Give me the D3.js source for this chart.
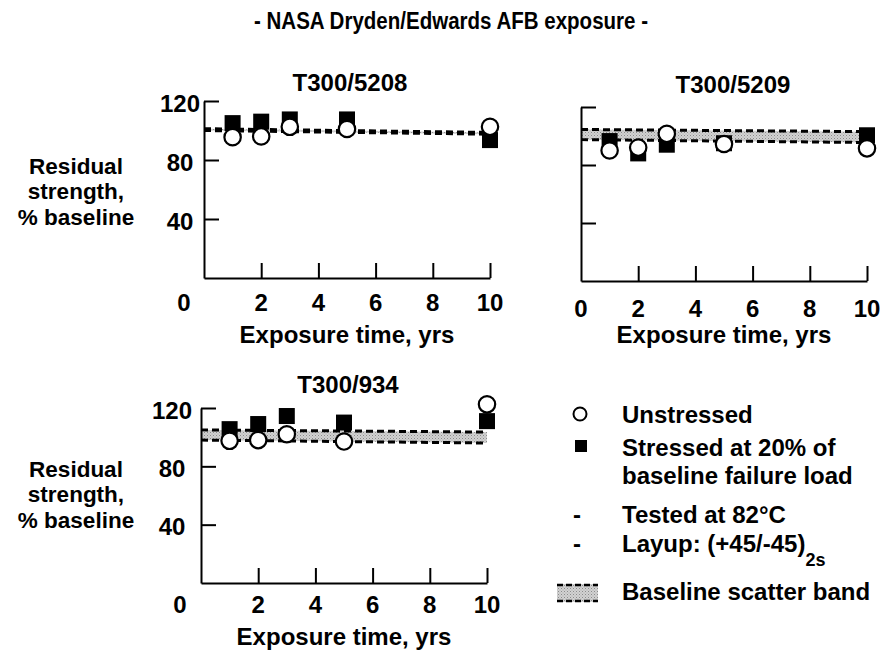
<!DOCTYPE html>
<html>
<head>
<meta charset="utf-8">
<script src="https://cdn.jsdelivr.net/npm/d3@7/dist/d3.min.js"></script>
<style>
  html, body { margin: 0; padding: 0; background: #fff; }
  svg { display: block; }
  text { font-family: "Liberation Sans", Arial, Helvetica, sans-serif; font-weight: bold; fill: #000; }
</style>
</head>
<body>
<svg id="chart" width="883" height="658"></svg>
<script>
// Exposure times (years) at which coupons were pulled and tested
const years = [1, 2, 3, 5, 10];

// Residual strength, % of baseline
const unstressed5208 = [95.5, 96, 102.5, 101, 102.5];
const stressed5208   = [105, 106, 107.5, 107.5, 93.5];
const unstressed5209 = [90, 92, 101.5, 94.5, 91.5];
const stressed5209   = [96.5, 88, 94, 95, 100.5];
const unstressed934  = [97.5, 98, 102, 97, 122.5];
const stressed934    = [105.5, 109, 114.5, 110, 111];

// Baseline scatter band: [year, low, high]
const band5208 = [[0, 100, 101.2], [10, 97.5, 98.7]];
const band5209 = [[0, 97.5, 104.5], [10, 95.5, 103]];
const band934  = [[0, 98, 105], [10, 96, 103.5]];

// Axis ticks
const xTicks = [2, 4, 6, 8, 10];
const yTicks = [40, 80, 120];

const FS = "24px";
const svg = d3.select("#chart");

// halftone-like fill for the scatter band
const defs = svg.append("defs");
const pat = defs.append("pattern")
  .attr("id", "stipple").attr("patternUnits", "userSpaceOnUse")
  .attr("width", 3).attr("height", 3);
pat.append("rect").attr("width", 3).attr("height", 3).attr("fill", "#d2d2d2");
pat.append("rect").attr("x", 0).attr("y", 0).attr("width", 1).attr("height", 1).attr("fill", "#8c8c8c");
pat.append("rect").attr("x", 1.5).attr("y", 1.5).attr("width", 1).attr("height", 1).attr("fill", "#a8a8a8");

svg.append("text")
  .attr("x", 451).attr("y", 29)
  .attr("text-anchor", "middle")
  .attr("textLength", 394).attr("lengthAdjust", "spacingAndGlyphs")
  .style("font-size", "23px")
  .text("- NASA Dryden/Edwards AFB exposure -");

function drawPanel(p) {
  const x = d3.scaleLinear().domain([0, 10]).range([p.left, p.right]);
  const y = d3.scaleLinear().domain([0, 120]).range([p.bottom, p.top]);
  const g = svg.append("g");

  // scatter band
  g.append("path").datum(p.band)
    .attr("fill", "url(#stipple)")
    .attr("d", d3.area().x(d => x(d[0])).y0(d => y(d[1])).y1(d => y(d[2])));
  [1, 2].forEach(k => {
    g.append("path").datum(p.band)
      .attr("fill", "none").attr("stroke", "#000")
      .attr("stroke-width", 3).attr("stroke-dasharray", "7,4")
      .attr("d", d3.line().x(d => x(d[0])).y(d => y(d[k])));
  });

  // axes with inward ticks
  const ya = g.append("g").attr("transform", `translate(${p.left},0)`)
    .call(d3.axisLeft(y).tickValues(yTicks).tickSizeInner(-15).tickSizeOuter(0).tickFormat(""));
  const xa = g.append("g").attr("transform", `translate(0,${p.bottom})`)
    .call(d3.axisBottom(x).tickValues(xTicks).tickSizeInner(-15).tickSizeOuter(0).tickFormat(""));
  [ya, xa].forEach(a => {
    a.selectAll("path, line").attr("stroke", "#000").attr("stroke-width", 2);
  });

  // markers: stressed squares under unstressed circles
  const s = 16;
  g.selectAll(null).data(years.map((t, i) => [t, p.stressed[i]])).join("rect")
    .attr("x", d => x(d[0]) - s / 2).attr("y", d => y(d[1]) - s / 2)
    .attr("width", s).attr("height", s).attr("fill", "#000");
  g.selectAll(null).data(years.map((t, i) => [t, p.unstressed[i]])).join("circle")
    .attr("cx", d => x(d[0])).attr("cy", d => y(d[1])).attr("r", 8.2)
    .attr("fill", "#fff").attr("stroke", "#000").attr("stroke-width", 2.2);

  // tick labels
  const xt = p.showZeroX ? [0].concat(xTicks) : xTicks;
  g.selectAll(null).data(xt).join("text")
    .attr("x", d => x(d)).attr("y", p.xLabelY)
    .attr("text-anchor", "middle").attr("dominant-baseline", "central")
    .style("font-size", FS).text(d => d);
  if (p.yLabelX) {
    g.selectAll(null).data(yTicks).join("text")
      .attr("x", p.yLabelX).attr("y", d => y(d) + 2)
      .attr("text-anchor", "middle").attr("dominant-baseline", "central")
      .style("font-size", FS).text(d => d);
    g.append("text").attr("x", p.zeroX).attr("y", p.xLabelY)
      .attr("text-anchor", "middle").attr("dominant-baseline", "central")
      .style("font-size", FS).text("0");
    ["Residual", "strength,", "% baseline"].forEach((t, i) => {
      g.append("text").attr("x", 76).attr("y", p.yTitleY + i * 25.4)
        .attr("text-anchor", "middle").style("font-size", "22.5px").text(t);
    });
  }

  g.append("text").attr("x", p.titleX).attr("y", p.titleY)
    .attr("text-anchor", "middle").style("font-size", FS).text(p.title);
  g.append("text").attr("x", (p.left + p.right) / 2).attr("y", p.xTitleY)
    .attr("text-anchor", "middle").style("font-size", FS).text("Exposure time, yrs");
}

drawPanel({ title: "T300/5208", left: 204, right: 490, top: 101, bottom: 278,
  unstressed: unstressed5208, stressed: stressed5208, band: band5208,
  titleX: 350, titleY: 91, xLabelY: 302, xTitleY: 343,
  yLabelX: 180, zeroX: 184, yTitleY: 174 });
drawPanel({ title: "T300/5209", left: 581, right: 867, top: 107, bottom: 281,
  unstressed: unstressed5209, stressed: stressed5209, band: band5209,
  titleX: 733, titleY: 93, xLabelY: 308, xTitleY: 343, showZeroX: true });
drawPanel({ title: "T300/934", left: 201, right: 487, top: 408, bottom: 583,
  unstressed: unstressed934, stressed: stressed934, band: band934,
  titleX: 348, titleY: 393, xLabelY: 604, xTitleY: 645,
  yLabelX: 172, zeroX: 180, yTitleY: 477 });

// legend
const lg = svg.append("g");
const tx = 622;
lg.append("circle").attr("cx", 580).attr("cy", 414).attr("r", 6.5)
  .attr("fill", "#fff").attr("stroke", "#000").attr("stroke-width", 2);
lg.append("rect").attr("x", 575).attr("y", 440).attr("width", 12).attr("height", 12).attr("fill", "#000");
lg.append("text").attr("x", 577).attr("y", 523).attr("text-anchor", "middle").style("font-size", FS).text("-");
lg.append("text").attr("x", 577).attr("y", 552).attr("text-anchor", "middle").style("font-size", FS).text("-");
lg.append("rect").attr("x", 557).attr("y", 584).attr("width", 41).attr("height", 18).attr("fill", "url(#stipple)");
[585, 601].forEach(yy => lg.append("line").attr("x1", 557).attr("x2", 598).attr("y1", yy).attr("y2", yy)
  .attr("stroke", "#000").attr("stroke-width", 2.5).attr("stroke-dasharray", "6,3"));

const rows = [
  ["Unstressed", 423], ["Stressed at 20% of", 456], ["baseline failure load", 484],
  ["Tested at 82°C", 523]
];
rows.forEach(r => lg.append("text").attr("x", tx).attr("y", r[1]).style("font-size", FS).text(r[0]));
const lay = lg.append("text").attr("x", tx).attr("y", 552).style("font-size", FS);
lay.append("tspan").text("Layup: (+45/-45)");
lay.append("tspan").attr("dy", 14).style("font-size", "18px").text("2s");
lg.append("text").attr("x", tx).attr("y", 600).style("font-size", FS).text("Baseline scatter band");
</script>
</body>
</html>
